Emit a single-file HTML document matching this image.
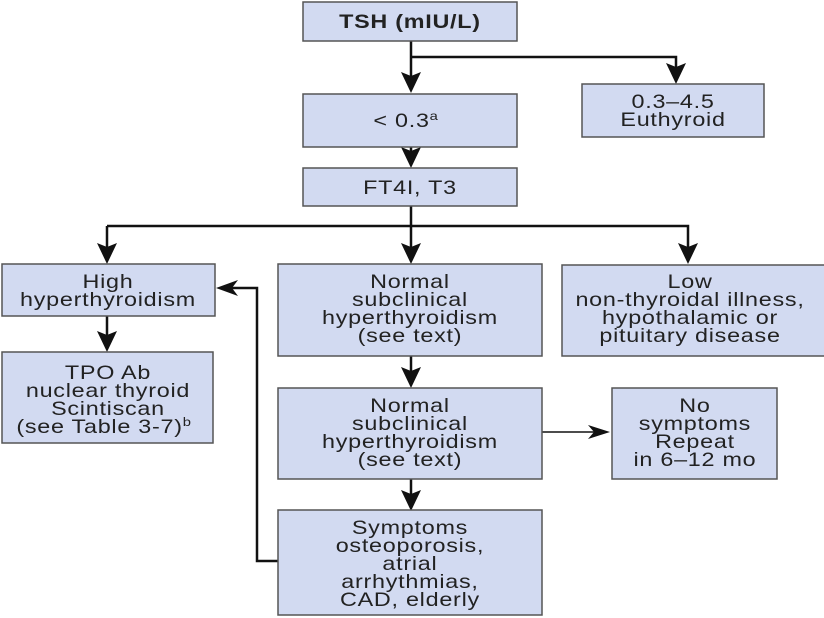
<!DOCTYPE html>
<html><head><meta charset="utf-8"><style>
html,body{margin:0;padding:0;background:#fff;}
svg{display:block;}
text{font-family:"Liberation Sans",Arial,sans-serif;font-size:19px;fill:#222;text-anchor:middle;letter-spacing:0.6px;}
.b{fill:#d2daf1;stroke:#555;stroke-width:1.5;}
.l{stroke:#111;stroke-width:2.5;fill:none;}
.t{stroke:#111;stroke-width:1.5;fill:none;}
</style></head><body>
<svg width="824" height="618" viewBox="0 0 824 618" xmlns="http://www.w3.org/2000/svg">
<path class="l" d="M411,41 V80" />
<path d="M401,72 L411,93 L421,72 L411,76 z" fill="#111"/>
<path class="l" d="M411,57 H676 V70"/>
<path d="M666,63 L676,84 L686,63 L676,67 z" fill="#111"/>
<path class="l" d="M411,147 V160"/>
<path d="M401,147 L411,168 L421,147 L411,151 z" fill="#111"/>
<path class="l" d="M411,206 V250"/>
<path class="l" d="M107,226 H688 V250"/>
<path class="l" d="M107,226 V250"/>
<path d="M97,243 L107,264 L117,243 L107,247 z" fill="#111"/>
<path d="M401,243 L411,264 L421,243 L411,247 z" fill="#111"/>
<path d="M678,243 L688,264 L698,243 L688,247 z" fill="#111"/>
<path class="l" d="M107,316 V340"/>
<path d="M97,331 L107,352 L117,331 L107,335 z" fill="#111"/>
<path class="l" d="M411,356 V376"/>
<path d="M401,367 L411,388 L421,367 L411,371 z" fill="#111"/>
<path class="l" d="M411,479 V500"/>
<path d="M401,490 L411,511 L421,490 L411,494 z" fill="#111"/>
<path class="t" d="M542,432 H600"/>
<path d="M588,425 L610,432 L588,439 L594,432 z" fill="#111"/>
<path class="l" d="M278,561 H257 V288 H232"/>
<path d="M238,280 L216,288 L238,296 L232,288 z" fill="#111"/>
<rect class="b" x="303" y="2" width="214" height="39"/>
<rect class="b" x="303" y="94" width="214" height="53"/>
<rect class="b" x="582" y="84" width="182" height="53"/>
<rect class="b" x="303" y="168" width="214" height="38"/>
<rect class="b" x="2" y="264" width="213" height="52"/>
<rect class="b" x="2" y="352" width="211" height="91"/>
<rect class="b" x="278" y="264" width="264" height="92"/>
<rect class="b" x="562" y="265" width="264" height="91"/>
<rect class="b" x="278" y="388" width="264" height="91"/>
<rect class="b" x="612" y="388" width="165" height="91"/>
<rect class="b" x="278" y="510" width="264" height="105"/>
<g transform="scale(1.23,1)">
<text x="333.3" y="28" style="font-weight:bold">TSH (mIU/L)</text>
<text x="330.1" y="127">&lt; 0.3<tspan font-size="12" dy="-7">a</tspan></text>
<text x="547.2" y="108">0.3–4.5</text><text x="547.2" y="126">Euthyroid</text>
<text x="333.3" y="194">FT4I, T3</text>
<text x="87.8" y="288">High</text><text x="87.8" y="306">hyperthyroidism</text>
<text x="87.8" y="379">TPO Ab</text><text x="87.8" y="397">nuclear thyroid</text><text x="87.8" y="415">Scintiscan</text><text x="84.6" y="433">(see Table 3-7)<tspan font-size="12" dy="-7">b</tspan></text>
<text x="333.3" y="288">Normal</text><text x="333.3" y="306">subclinical</text><text x="333.3" y="324">hyperthyroidism</text><text x="333.3" y="342">(see text)</text>
<text x="561" y="288">Low</text><text x="561" y="306">non-thyroidal illness,</text><text x="561" y="324">hypothalamic or</text><text x="561" y="342">pituitary disease</text>
<text x="333.3" y="412">Normal</text><text x="333.3" y="430">subclinical</text><text x="333.3" y="448">hyperthyroidism</text><text x="333.3" y="466">(see text)</text>
<text x="565" y="412">No</text><text x="565" y="430">symptoms</text><text x="565" y="448">Repeat</text><text x="565" y="466">in 6–12 mo</text>
<text x="333.3" y="534">Symptoms</text><text x="333.3" y="552">osteoporosis,</text><text x="333.3" y="570">atrial</text><text x="333.3" y="588">arrhythmias,</text><text x="333.3" y="606">CAD, elderly</text>
</g>
</svg>
</body></html>
